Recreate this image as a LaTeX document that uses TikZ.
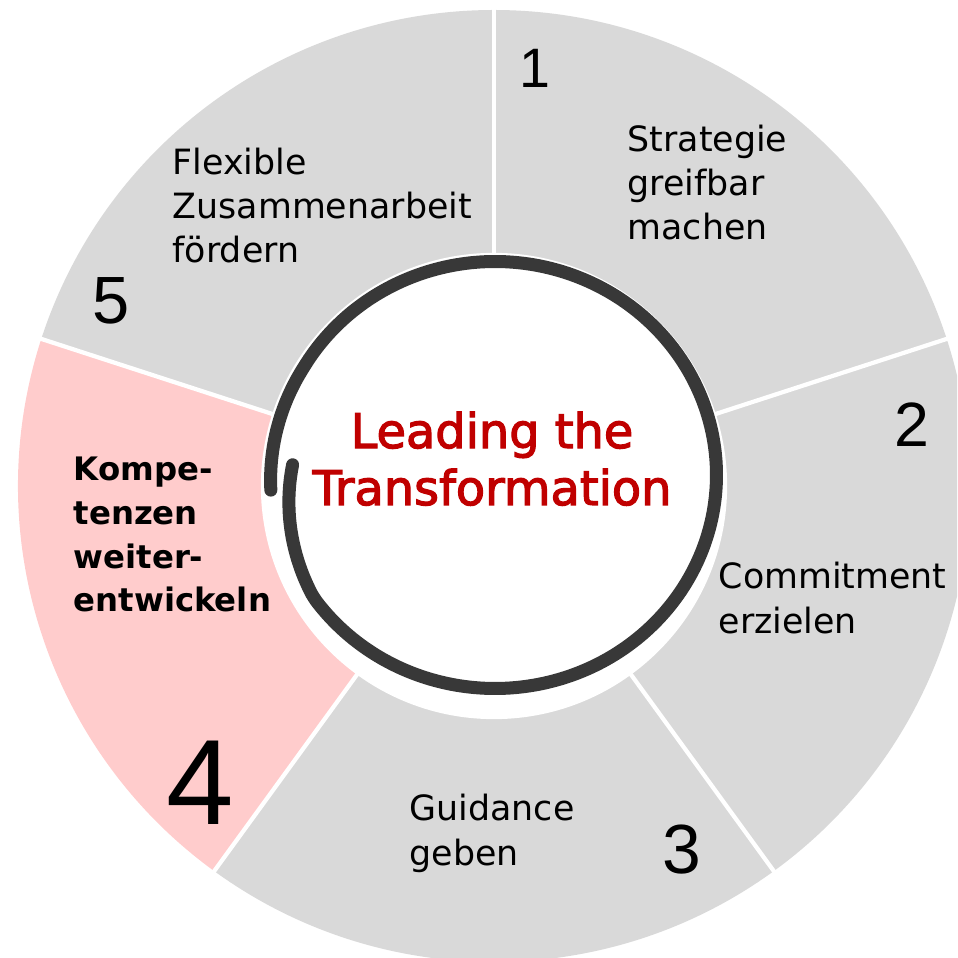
\documentclass[tikz,border=0pt]{standalone}
\usepackage{fontspec}
\setmainfont{DejaVu Sans}
\newfontfamily\titlefont[FakeBold=2.5]{DejaVu Sans}
\newfontfamily\digitfont{Liberation Sans}
\usepackage{xcolor}
\definecolor{sectorgray}{HTML}{D9D9D9}
\definecolor{sectorpink}{HTML}{FFCCCC}
\definecolor{titlered}{HTML}{C00000}
\definecolor{ringgray}{HTML}{383838}

\begin{document}
\begin{tikzpicture}[
    x=0.01cm, y=0.01cm,
    label text/.style={anchor=base west, align=left, inner sep=0pt, font={\fontsize{9.9}{12.6}\selectfont}},
    hand digit/.style={inner sep=0pt, font={\digitfont\fontsize{#1}{#1}\selectfont}},
    divider/.style={white, line width=1.2pt},
    ring/.style={ringgray, line width=3.7pt, line cap=round},
  ]
  \useasboundingbox (-494,-472) rectangle (463,486);
  \clip (-494,-472) rectangle (463,486);

  % the five sectors of the wheel
  \foreach \from/\to/\col in {18/90/sectorgray, -54/18/sectorgray, -126/-54/sectorgray,
                             162/234/sectorpink, 90/162/sectorgray}
    \fill[\col] (0,0) -- (\from:476) arc[start angle=\from, end angle=\to, radius=476] -- cycle;
  \foreach \a in {90,18,-54,-126,162}
    \draw[divider] (0,0) -- (\a:480);

  % white hub with the brush circle
  \node[circle, fill=white, inner sep=0pt, minimum size=4.66cm] (hub) at (0,0) {};
  \draw[ring] plot[domain=177:544, samples=160, smooth, variable=\t]
    ({1+(1-0.085*max(0,215-\t)/38+0.015*max(0,\t-510)/35)*221.5*cos(\t)},
     {11+(1-0.085*max(0,215-\t)/38+0.015*max(0,\t-510)/35)*213.5*sin(\t)});

  % base of a multi-line node = last line
  \node[anchor=base, align=center, inner sep=0pt, text=titlered,
        font={\titlefont\fontsize{13.6}{16.2}\selectfont}] (title) at (-2,-19) {Leading the\\Transformation};

  % sector texts
  \node[label text] (strategy)   at (133,246)  {Strategie\\greifbar\\machen};
  \node[label text] (commitment) at (224,-147) {Commitment\\erzielen};
  \node[label text] (guidance)   at (-85,-379) {Guidance\\geben};
  \node[label text, font={\bfseries\fontsize{9.2}{12.5}\selectfont}] (skills) at (-421,-126)
    {Kompe-\\tenzen\\weiter-\\entwickeln};
  \node[label text] (teamwork)   at (-322,223) {Flexible\\Zusammenarbeit\\fördern};

  % step numbers
  \node[hand digit=15.8] (n1) at (41,418)   {1};
  \node[hand digit=17.8] (n2) at (418,61)   {2};
  \node[hand digit=19.8] (n3) at (188,-364) {3};
  \node[hand digit=34.5] (n4) at (-294,-297) {4};
  \node[hand digit=19]   (n5) at (-383,185) {5};
\end{tikzpicture}
\end{document}
